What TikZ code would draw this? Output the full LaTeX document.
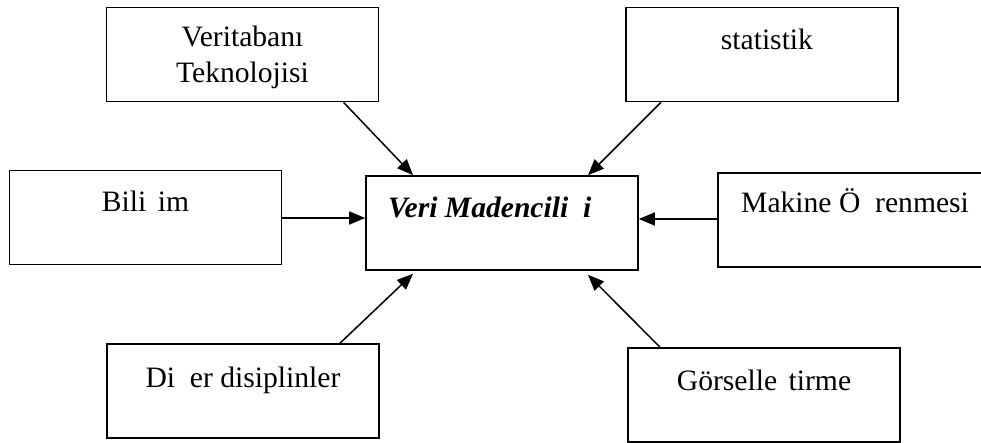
\documentclass[tikz,border=0pt]{standalone}
\usepackage{fontspec}
\setmainfont{Liberation Serif}
\usetikzlibrary{arrows.meta,calc}
\tikzset{
  box/.style={draw=black, line width=1.6pt, rectangle, inner sep=0pt,
    minimum width=272pt, minimum height=94pt},
  lbl/.style={anchor=base, inner sep=0pt, font=\fontsize{29.6}{36}\selectfont},
  arr/.style={line width=1.5pt, -{Triangle[length=16pt,width=13pt]}}
}
\begin{document}
\begin{tikzpicture}[x=1pt,y=-1pt]
\clip (0,0) rectangle (981,443);
% boxes
\node[box] (vt) at (242.5,54.5) {};
\node[box] (st) at (762,54.5) {};
\node[box] (bl) at (145.5,217.5) {};
\node[box] (vm) at (502,223) {};
\node[box] (mk) at (854,220) {};
\node[box] (dg) at (243,391) {};
\node[box] (gs) at (764,395) {};
% texts
\node[lbl] (tvt1) at (242.5,47) {Veritabanı};
\node[lbl] (tvt2) at (242.5,83) {Teknolojisi};
\node[lbl] (tst) at (762,50) {\phantom{İ}statistik};
\node[lbl] (tbl) at (145.5,212) {Bili\phantom{ş}im};
\node[lbl, anchor=base west] (tvm) at (388,218) {\textbf{\textit{Veri Madencili\phantom{ğ}i}}};
\node[lbl, anchor=base west] (tmk) at (741,213) {Makine Ö\phantom{ğ}renmesi};
\node[lbl] (tdg) at (243,387) {Di\phantom{ğ}er disiplinler};
\node[lbl] (tgs) at (764,390) {Görselle\phantom{ş}tirme};
% connectors
\draw[arr] ([xshift=101pt]vt.south) -- ([xshift=-89pt]vm.north);
\draw[arr] ([xshift=-101pt]st.south) -- ([xshift=86pt]vm.north);
\draw[arr] ([yshift=-0.5pt]bl.east) -- ([yshift=-0.5pt]bl.east -| vm.west);
\draw[arr] ([yshift=1pt]mk.west) -- ([yshift=1pt]mk.west -| vm.east);
\draw[arr] ([xshift=97pt]dg.north) -- ([xshift=-89pt,yshift=-3pt]vm.south);
\draw[arr] ([xshift=-104pt]gs.north) -- ([xshift=86pt,yshift=-4pt]vm.south);
\end{tikzpicture}
\end{document}
